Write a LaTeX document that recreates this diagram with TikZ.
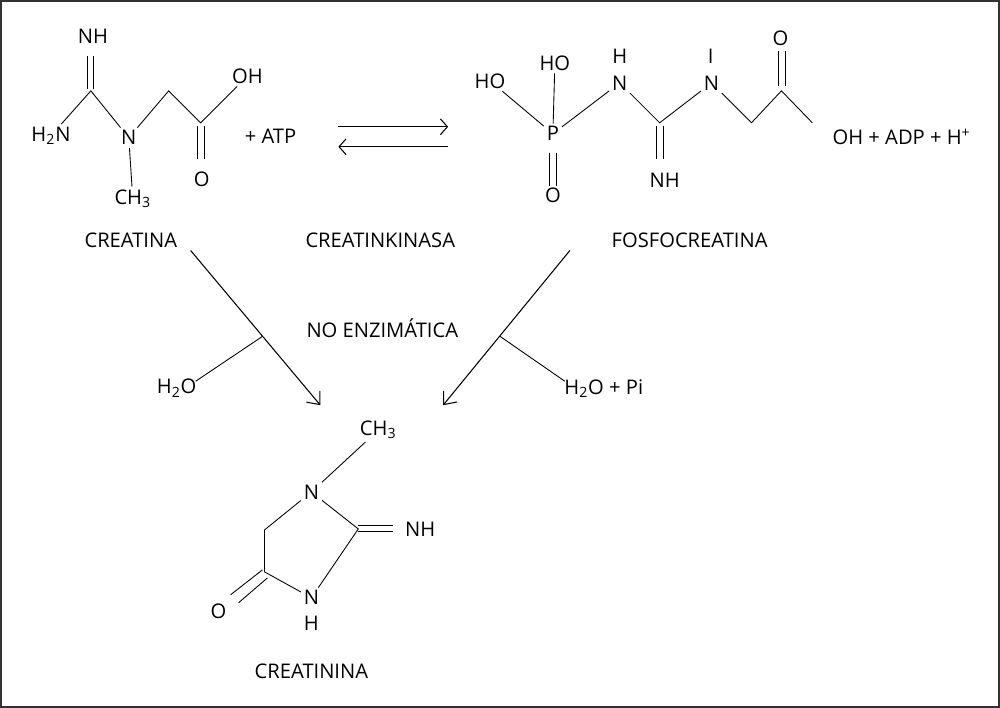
\documentclass[tikz,border=0pt]{standalone}
\usepackage{fontspec}
\setmainfont{Open Sans}
\usetikzlibrary{arrows.meta}

\begin{document}
\begin{tikzpicture}[x=0.02cm, y=-0.02cm,
    atom/.style={inner sep=1.5pt, font=\fontsize{11.5}{13}\selectfont},
    lbl/.style={inner sep=0pt, font=\fontsize{11.5}{13}\selectfont},
    bond/.style={line width=0.5pt},
    react/.style={line width=0.6pt, -{Straight Barb[length=6pt, width=10pt]}}]
    \draw[line width=1.2pt, draw=black!80] (0,0) rectangle (1000,707);

    % creatina
    \node[atom] (c1nh) at (92,35) {NH};
    \node[atom] (c1nh2) at (50,135) {H\textsubscript{2}N};
    \node[atom] (c1n) at (128,137) {N};
    \node[atom] (c1me) at (132,198) {CH\textsubscript{3}};
    \node[atom] (c1oh) at (247,75) {OH};
    \node[atom] (c1o) at (201,179) {O};
    \node[lbl] (atp) at (270,136) {+ ATP};
    \coordinate (c1a) at (90,90);
    \coordinate (c1b) at (168,90);
    \coordinate (c1c) at (200,122);
    \draw[bond] (c1nh2) -- (c1a) -- (c1n) -- (c1b) -- (c1c) -- (c1oh);
    \draw[bond] (c1n) -- (c1me);
    \draw[bond] (87,55) -- (87,88) (93,55) -- (93,88);
    \draw[bond] (197,125) -- (197,158) (204,125) -- (204,158);
    \node[lbl] (creatina) at (130,240) {CREATINA};

    % equilibrio
    \coordinate (eqa) at (338,126);
    \coordinate (eqb) at (448,126);
    \coordinate (eqc) at (448,146);
    \coordinate (eqd) at (338,146);
    \draw[line width=0.6pt, -{Straight Barb[length=4pt, width=9pt]}] (eqa) -- (eqb);
    \draw[line width=0.6pt, -{Straight Barb[length=4pt, width=9pt]}] (eqc) -- (eqd);
    \node[lbl] (ck) at (380,240) {CREATINKINASA};

    % fosfocreatina
    \node[atom] (f1ho) at (490,80) {HO};
    \node[atom] (f2ho) at (555,62) {HO};
    \node[atom] (fp) at (553,133) {P};
    \node[atom] (fo) at (553,195) {O};
    \node[atom] (fh) at (620,55) {H};
    \node[atom] (fn1) at (620,82) {N};
    \node[atom] (fnh) at (665,180) {NH};
    \node[atom] (fi) at (711,55) {I};
    \node[atom] (fn2) at (712,82) {N};
    \node[atom] (fotop) at (781,37) {O};
    \node[lbl, anchor=west] (foh) at (833,136) {OH + ADP + H\textsuperscript{+}};
    \coordinate (fc1) at (660,122);
    \coordinate (fc2) at (752,122);
    \coordinate (fc3) at (782,90);
    \draw[bond] (f1ho) -- (fp) -- (fn1) -- (fc1) -- (fn2) -- (fc2) -- (fc3) -- (813,122);
    \draw[bond] (f2ho) -- (fp);
    \draw[bond] (550,152) -- (550,185) (557,152) -- (557,185);
    \draw[bond] (657,125) -- (657,158) (664,125) -- (664,158);
    \draw[bond] (779,50) -- (779,85) (786,50) -- (786,85);
    \node[lbl] (fosfo) at (690,240) {FOSFOCREATINA};

    % hacia creatinina
    \coordinate (la) at (190,250);
    \coordinate (lb) at (320,405);
    \coordinate (lm) at (262,336);
    \coordinate (ra) at (570,250);
    \coordinate (rb) at (443,405);
    \coordinate (rm) at (500,336);
    \draw[react] (la) -- (lb);
    \draw[react] (ra) -- (rb);
    \node[lbl] (h2o) at (176,388) {H\textsubscript{2}O};
    \node[lbl] (h2opi) at (604,388) {H\textsubscript{2}O + Pi};
    \draw[bond] (lm) -- (195,381);
    \draw[bond] (rm) -- (565,381);
    \node[lbl] (noenz) at (382,328) {NO ENZIMÁTICA};

    % creatinina
    \node[atom] (c2me) at (378,430) {CH\textsubscript{3}};
    \node[atom] (c2n1) at (311,492) {N};
    \node[atom] (c2nh) at (420,529) {NH};
    \node[atom] (c2n3) at (311,598) {N};
    \node[atom] (c2h) at (311,624) {H};
    \node[atom] (c2o) at (218,612) {O};
    \coordinate (c2c2) at (358,529);
    \coordinate (c2c4) at (264,572);
    \coordinate (c2c5) at (264,530);
    \draw[bond] (c2me) -- (c2n1) -- (c2c2) -- (c2n3) -- (c2c4) -- (c2c5) -- (c2n1);
    \draw[bond] (358,525) -- (393,525) (358,532) -- (393,532);
    \draw[bond] (262,570) -- (230,595) (267,578) -- (238,603);
    \node[lbl] (creatinina) at (311,672) {CREATININA};
\end{tikzpicture}
\end{document}
